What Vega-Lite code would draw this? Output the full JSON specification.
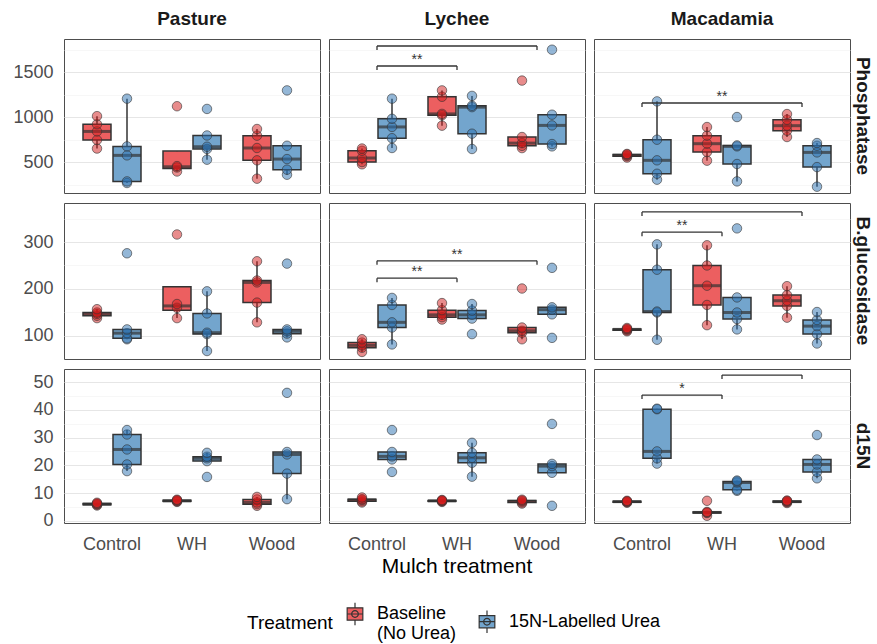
{
"$schema": "https://vega.github.io/schema/vega-lite/v6.json",
"padding": {"left": 12, "top": 10, "right": 4, "bottom": 4},
"datasets": {"d": [
{"site":"Pasture","enzyme":"Phosphatase","mulch":"Control","trt":"Baseline","value":650},
{"site":"Pasture","enzyme":"Phosphatase","mulch":"Control","trt":"Baseline","value":745},
{"site":"Pasture","enzyme":"Phosphatase","mulch":"Control","trt":"Baseline","value":840},
{"site":"Pasture","enzyme":"Phosphatase","mulch":"Control","trt":"Baseline","value":920},
{"site":"Pasture","enzyme":"Phosphatase","mulch":"Control","trt":"Baseline","value":1010},
{"site":"Pasture","enzyme":"Phosphatase","mulch":"Control","trt":"15N","value":267},
{"site":"Pasture","enzyme":"Phosphatase","mulch":"Control","trt":"15N","value":285},
{"site":"Pasture","enzyme":"Phosphatase","mulch":"Control","trt":"15N","value":574},
{"site":"Pasture","enzyme":"Phosphatase","mulch":"Control","trt":"15N","value":674},
{"site":"Pasture","enzyme":"Phosphatase","mulch":"Control","trt":"15N","value":1204},
{"site":"Pasture","enzyme":"Phosphatase","mulch":"WH","trt":"Baseline","value":395},
{"site":"Pasture","enzyme":"Phosphatase","mulch":"WH","trt":"Baseline","value":440},
{"site":"Pasture","enzyme":"Phosphatase","mulch":"WH","trt":"Baseline","value":455},
{"site":"Pasture","enzyme":"Phosphatase","mulch":"WH","trt":"Baseline","value":1120},
{"site":"Pasture","enzyme":"Phosphatase","mulch":"WH","trt":"15N","value":526},
{"site":"Pasture","enzyme":"Phosphatase","mulch":"WH","trt":"15N","value":645},
{"site":"Pasture","enzyme":"Phosphatase","mulch":"WH","trt":"15N","value":670},
{"site":"Pasture","enzyme":"Phosphatase","mulch":"WH","trt":"15N","value":795},
{"site":"Pasture","enzyme":"Phosphatase","mulch":"WH","trt":"15N","value":1090},
{"site":"Pasture","enzyme":"Phosphatase","mulch":"Wood","trt":"Baseline","value":315},
{"site":"Pasture","enzyme":"Phosphatase","mulch":"Wood","trt":"Baseline","value":519},
{"site":"Pasture","enzyme":"Phosphatase","mulch":"Wood","trt":"Baseline","value":656},
{"site":"Pasture","enzyme":"Phosphatase","mulch":"Wood","trt":"Baseline","value":793},
{"site":"Pasture","enzyme":"Phosphatase","mulch":"Wood","trt":"Baseline","value":867},
{"site":"Pasture","enzyme":"Phosphatase","mulch":"Wood","trt":"15N","value":359},
{"site":"Pasture","enzyme":"Phosphatase","mulch":"Wood","trt":"15N","value":415},
{"site":"Pasture","enzyme":"Phosphatase","mulch":"Wood","trt":"15N","value":533},
{"site":"Pasture","enzyme":"Phosphatase","mulch":"Wood","trt":"15N","value":681},
{"site":"Pasture","enzyme":"Phosphatase","mulch":"Wood","trt":"15N","value":1296},
{"site":"Lychee","enzyme":"Phosphatase","mulch":"Control","trt":"Baseline","value":475},
{"site":"Lychee","enzyme":"Phosphatase","mulch":"Control","trt":"Baseline","value":500},
{"site":"Lychee","enzyme":"Phosphatase","mulch":"Control","trt":"Baseline","value":545},
{"site":"Lychee","enzyme":"Phosphatase","mulch":"Control","trt":"Baseline","value":625},
{"site":"Lychee","enzyme":"Phosphatase","mulch":"Control","trt":"Baseline","value":650},
{"site":"Lychee","enzyme":"Phosphatase","mulch":"Control","trt":"15N","value":656},
{"site":"Lychee","enzyme":"Phosphatase","mulch":"Control","trt":"15N","value":765},
{"site":"Lychee","enzyme":"Phosphatase","mulch":"Control","trt":"15N","value":890},
{"site":"Lychee","enzyme":"Phosphatase","mulch":"Control","trt":"15N","value":980},
{"site":"Lychee","enzyme":"Phosphatase","mulch":"Control","trt":"15N","value":1204},
{"site":"Lychee","enzyme":"Phosphatase","mulch":"WH","trt":"Baseline","value":904},
{"site":"Lychee","enzyme":"Phosphatase","mulch":"WH","trt":"Baseline","value":1020},
{"site":"Lychee","enzyme":"Phosphatase","mulch":"WH","trt":"Baseline","value":1035},
{"site":"Lychee","enzyme":"Phosphatase","mulch":"WH","trt":"Baseline","value":1225},
{"site":"Lychee","enzyme":"Phosphatase","mulch":"WH","trt":"Baseline","value":1296},
{"site":"Lychee","enzyme":"Phosphatase","mulch":"WH","trt":"15N","value":645},
{"site":"Lychee","enzyme":"Phosphatase","mulch":"WH","trt":"15N","value":815},
{"site":"Lychee","enzyme":"Phosphatase","mulch":"WH","trt":"15N","value":1110},
{"site":"Lychee","enzyme":"Phosphatase","mulch":"WH","trt":"15N","value":1125},
{"site":"Lychee","enzyme":"Phosphatase","mulch":"WH","trt":"15N","value":1235},
{"site":"Lychee","enzyme":"Phosphatase","mulch":"Wood","trt":"Baseline","value":655},
{"site":"Lychee","enzyme":"Phosphatase","mulch":"Wood","trt":"Baseline","value":680},
{"site":"Lychee","enzyme":"Phosphatase","mulch":"Wood","trt":"Baseline","value":710},
{"site":"Lychee","enzyme":"Phosphatase","mulch":"Wood","trt":"Baseline","value":778},
{"site":"Lychee","enzyme":"Phosphatase","mulch":"Wood","trt":"Baseline","value":1405},
{"site":"Lychee","enzyme":"Phosphatase","mulch":"Wood","trt":"15N","value":674},
{"site":"Lychee","enzyme":"Phosphatase","mulch":"Wood","trt":"15N","value":700},
{"site":"Lychee","enzyme":"Phosphatase","mulch":"Wood","trt":"15N","value":907},
{"site":"Lychee","enzyme":"Phosphatase","mulch":"Wood","trt":"15N","value":1026},
{"site":"Lychee","enzyme":"Phosphatase","mulch":"Wood","trt":"15N","value":1748},
{"site":"Macadamia","enzyme":"Phosphatase","mulch":"Control","trt":"Baseline","value":550},
{"site":"Macadamia","enzyme":"Phosphatase","mulch":"Control","trt":"Baseline","value":565},
{"site":"Macadamia","enzyme":"Phosphatase","mulch":"Control","trt":"Baseline","value":575},
{"site":"Macadamia","enzyme":"Phosphatase","mulch":"Control","trt":"Baseline","value":585},
{"site":"Macadamia","enzyme":"Phosphatase","mulch":"Control","trt":"Baseline","value":590},
{"site":"Macadamia","enzyme":"Phosphatase","mulch":"Control","trt":"15N","value":304},
{"site":"Macadamia","enzyme":"Phosphatase","mulch":"Control","trt":"15N","value":370},
{"site":"Macadamia","enzyme":"Phosphatase","mulch":"Control","trt":"15N","value":519},
{"site":"Macadamia","enzyme":"Phosphatase","mulch":"Control","trt":"15N","value":748},
{"site":"Macadamia","enzyme":"Phosphatase","mulch":"Control","trt":"15N","value":1174},
{"site":"Macadamia","enzyme":"Phosphatase","mulch":"WH","trt":"Baseline","value":515},
{"site":"Macadamia","enzyme":"Phosphatase","mulch":"WH","trt":"Baseline","value":611},
{"site":"Macadamia","enzyme":"Phosphatase","mulch":"WH","trt":"Baseline","value":704},
{"site":"Macadamia","enzyme":"Phosphatase","mulch":"WH","trt":"Baseline","value":793},
{"site":"Macadamia","enzyme":"Phosphatase","mulch":"WH","trt":"Baseline","value":889},
{"site":"Macadamia","enzyme":"Phosphatase","mulch":"WH","trt":"15N","value":285},
{"site":"Macadamia","enzyme":"Phosphatase","mulch":"WH","trt":"15N","value":478},
{"site":"Macadamia","enzyme":"Phosphatase","mulch":"WH","trt":"15N","value":674},
{"site":"Macadamia","enzyme":"Phosphatase","mulch":"WH","trt":"15N","value":685},
{"site":"Macadamia","enzyme":"Phosphatase","mulch":"WH","trt":"15N","value":1000},
{"site":"Macadamia","enzyme":"Phosphatase","mulch":"Wood","trt":"Baseline","value":778},
{"site":"Macadamia","enzyme":"Phosphatase","mulch":"Wood","trt":"Baseline","value":848},
{"site":"Macadamia","enzyme":"Phosphatase","mulch":"Wood","trt":"Baseline","value":904},
{"site":"Macadamia","enzyme":"Phosphatase","mulch":"Wood","trt":"Baseline","value":970},
{"site":"Macadamia","enzyme":"Phosphatase","mulch":"Wood","trt":"Baseline","value":1033},
{"site":"Macadamia","enzyme":"Phosphatase","mulch":"Wood","trt":"15N","value":226},
{"site":"Macadamia","enzyme":"Phosphatase","mulch":"Wood","trt":"15N","value":444},
{"site":"Macadamia","enzyme":"Phosphatase","mulch":"Wood","trt":"15N","value":607},
{"site":"Macadamia","enzyme":"Phosphatase","mulch":"Wood","trt":"15N","value":681},
{"site":"Macadamia","enzyme":"Phosphatase","mulch":"Wood","trt":"15N","value":711},
{"site":"Pasture","enzyme":"B.glucosidase","mulch":"Control","trt":"Baseline","value":138},
{"site":"Pasture","enzyme":"B.glucosidase","mulch":"Control","trt":"Baseline","value":143},
{"site":"Pasture","enzyme":"B.glucosidase","mulch":"Control","trt":"Baseline","value":147},
{"site":"Pasture","enzyme":"B.glucosidase","mulch":"Control","trt":"Baseline","value":150},
{"site":"Pasture","enzyme":"B.glucosidase","mulch":"Control","trt":"Baseline","value":157},
{"site":"Pasture","enzyme":"B.glucosidase","mulch":"Control","trt":"15N","value":93},
{"site":"Pasture","enzyme":"B.glucosidase","mulch":"Control","trt":"15N","value":95},
{"site":"Pasture","enzyme":"B.glucosidase","mulch":"Control","trt":"15N","value":106},
{"site":"Pasture","enzyme":"B.glucosidase","mulch":"Control","trt":"15N","value":114},
{"site":"Pasture","enzyme":"B.glucosidase","mulch":"Control","trt":"15N","value":276},
{"site":"Pasture","enzyme":"B.glucosidase","mulch":"WH","trt":"Baseline","value":138},
{"site":"Pasture","enzyme":"B.glucosidase","mulch":"WH","trt":"Baseline","value":160},
{"site":"Pasture","enzyme":"B.glucosidase","mulch":"WH","trt":"Baseline","value":168},
{"site":"Pasture","enzyme":"B.glucosidase","mulch":"WH","trt":"Baseline","value":316},
{"site":"Pasture","enzyme":"B.glucosidase","mulch":"WH","trt":"15N","value":68},
{"site":"Pasture","enzyme":"B.glucosidase","mulch":"WH","trt":"15N","value":104},
{"site":"Pasture","enzyme":"B.glucosidase","mulch":"WH","trt":"15N","value":107},
{"site":"Pasture","enzyme":"B.glucosidase","mulch":"WH","trt":"15N","value":148},
{"site":"Pasture","enzyme":"B.glucosidase","mulch":"WH","trt":"15N","value":195},
{"site":"Pasture","enzyme":"B.glucosidase","mulch":"Wood","trt":"Baseline","value":129},
{"site":"Pasture","enzyme":"B.glucosidase","mulch":"Wood","trt":"Baseline","value":171},
{"site":"Pasture","enzyme":"B.glucosidase","mulch":"Wood","trt":"Baseline","value":214},
{"site":"Pasture","enzyme":"B.glucosidase","mulch":"Wood","trt":"Baseline","value":218},
{"site":"Pasture","enzyme":"B.glucosidase","mulch":"Wood","trt":"Baseline","value":259},
{"site":"Pasture","enzyme":"B.glucosidase","mulch":"Wood","trt":"15N","value":97},
{"site":"Pasture","enzyme":"B.glucosidase","mulch":"Wood","trt":"15N","value":105},
{"site":"Pasture","enzyme":"B.glucosidase","mulch":"Wood","trt":"15N","value":110},
{"site":"Pasture","enzyme":"B.glucosidase","mulch":"Wood","trt":"15N","value":114},
{"site":"Pasture","enzyme":"B.glucosidase","mulch":"Wood","trt":"15N","value":254},
{"site":"Lychee","enzyme":"B.glucosidase","mulch":"Control","trt":"Baseline","value":66},
{"site":"Lychee","enzyme":"B.glucosidase","mulch":"Control","trt":"Baseline","value":75},
{"site":"Lychee","enzyme":"B.glucosidase","mulch":"Control","trt":"Baseline","value":80},
{"site":"Lychee","enzyme":"B.glucosidase","mulch":"Control","trt":"Baseline","value":86},
{"site":"Lychee","enzyme":"B.glucosidase","mulch":"Control","trt":"Baseline","value":93},
{"site":"Lychee","enzyme":"B.glucosidase","mulch":"Control","trt":"15N","value":82},
{"site":"Lychee","enzyme":"B.glucosidase","mulch":"Control","trt":"15N","value":118},
{"site":"Lychee","enzyme":"B.glucosidase","mulch":"Control","trt":"15N","value":129},
{"site":"Lychee","enzyme":"B.glucosidase","mulch":"Control","trt":"15N","value":166},
{"site":"Lychee","enzyme":"B.glucosidase","mulch":"Control","trt":"15N","value":181},
{"site":"Lychee","enzyme":"B.glucosidase","mulch":"WH","trt":"Baseline","value":135},
{"site":"Lychee","enzyme":"B.glucosidase","mulch":"WH","trt":"Baseline","value":140},
{"site":"Lychee","enzyme":"B.glucosidase","mulch":"WH","trt":"Baseline","value":145},
{"site":"Lychee","enzyme":"B.glucosidase","mulch":"WH","trt":"Baseline","value":155},
{"site":"Lychee","enzyme":"B.glucosidase","mulch":"WH","trt":"Baseline","value":170},
{"site":"Lychee","enzyme":"B.glucosidase","mulch":"WH","trt":"15N","value":104},
{"site":"Lychee","enzyme":"B.glucosidase","mulch":"WH","trt":"15N","value":137},
{"site":"Lychee","enzyme":"B.glucosidase","mulch":"WH","trt":"15N","value":145},
{"site":"Lychee","enzyme":"B.glucosidase","mulch":"WH","trt":"15N","value":154},
{"site":"Lychee","enzyme":"B.glucosidase","mulch":"WH","trt":"15N","value":168},
{"site":"Lychee","enzyme":"B.glucosidase","mulch":"Wood","trt":"Baseline","value":93},
{"site":"Lychee","enzyme":"B.glucosidase","mulch":"Wood","trt":"Baseline","value":107},
{"site":"Lychee","enzyme":"B.glucosidase","mulch":"Wood","trt":"Baseline","value":111},
{"site":"Lychee","enzyme":"B.glucosidase","mulch":"Wood","trt":"Baseline","value":118},
{"site":"Lychee","enzyme":"B.glucosidase","mulch":"Wood","trt":"Baseline","value":201},
{"site":"Lychee","enzyme":"B.glucosidase","mulch":"Wood","trt":"15N","value":96},
{"site":"Lychee","enzyme":"B.glucosidase","mulch":"Wood","trt":"15N","value":146},
{"site":"Lychee","enzyme":"B.glucosidase","mulch":"Wood","trt":"15N","value":156},
{"site":"Lychee","enzyme":"B.glucosidase","mulch":"Wood","trt":"15N","value":161},
{"site":"Lychee","enzyme":"B.glucosidase","mulch":"Wood","trt":"15N","value":245},
{"site":"Macadamia","enzyme":"B.glucosidase","mulch":"Control","trt":"Baseline","value":110},
{"site":"Macadamia","enzyme":"B.glucosidase","mulch":"Control","trt":"Baseline","value":112},
{"site":"Macadamia","enzyme":"B.glucosidase","mulch":"Control","trt":"Baseline","value":114},
{"site":"Macadamia","enzyme":"B.glucosidase","mulch":"Control","trt":"Baseline","value":115},
{"site":"Macadamia","enzyme":"B.glucosidase","mulch":"Control","trt":"Baseline","value":117},
{"site":"Macadamia","enzyme":"B.glucosidase","mulch":"Control","trt":"15N","value":92},
{"site":"Macadamia","enzyme":"B.glucosidase","mulch":"Control","trt":"15N","value":150},
{"site":"Macadamia","enzyme":"B.glucosidase","mulch":"Control","trt":"15N","value":152},
{"site":"Macadamia","enzyme":"B.glucosidase","mulch":"Control","trt":"15N","value":241},
{"site":"Macadamia","enzyme":"B.glucosidase","mulch":"Control","trt":"15N","value":295},
{"site":"Macadamia","enzyme":"B.glucosidase","mulch":"WH","trt":"Baseline","value":123},
{"site":"Macadamia","enzyme":"B.glucosidase","mulch":"WH","trt":"Baseline","value":166},
{"site":"Macadamia","enzyme":"B.glucosidase","mulch":"WH","trt":"Baseline","value":207},
{"site":"Macadamia","enzyme":"B.glucosidase","mulch":"WH","trt":"Baseline","value":250},
{"site":"Macadamia","enzyme":"B.glucosidase","mulch":"WH","trt":"Baseline","value":293},
{"site":"Macadamia","enzyme":"B.glucosidase","mulch":"WH","trt":"15N","value":114},
{"site":"Macadamia","enzyme":"B.glucosidase","mulch":"WH","trt":"15N","value":136},
{"site":"Macadamia","enzyme":"B.glucosidase","mulch":"WH","trt":"15N","value":150},
{"site":"Macadamia","enzyme":"B.glucosidase","mulch":"WH","trt":"15N","value":182},
{"site":"Macadamia","enzyme":"B.glucosidase","mulch":"WH","trt":"15N","value":329},
{"site":"Macadamia","enzyme":"B.glucosidase","mulch":"Wood","trt":"Baseline","value":139},
{"site":"Macadamia","enzyme":"B.glucosidase","mulch":"Wood","trt":"Baseline","value":164},
{"site":"Macadamia","enzyme":"B.glucosidase","mulch":"Wood","trt":"Baseline","value":175},
{"site":"Macadamia","enzyme":"B.glucosidase","mulch":"Wood","trt":"Baseline","value":187},
{"site":"Macadamia","enzyme":"B.glucosidase","mulch":"Wood","trt":"Baseline","value":206},
{"site":"Macadamia","enzyme":"B.glucosidase","mulch":"Wood","trt":"15N","value":84},
{"site":"Macadamia","enzyme":"B.glucosidase","mulch":"Wood","trt":"15N","value":104},
{"site":"Macadamia","enzyme":"B.glucosidase","mulch":"Wood","trt":"15N","value":121},
{"site":"Macadamia","enzyme":"B.glucosidase","mulch":"Wood","trt":"15N","value":134},
{"site":"Macadamia","enzyme":"B.glucosidase","mulch":"Wood","trt":"15N","value":151},
{"site":"Pasture","enzyme":"d15N","mulch":"Control","trt":"Baseline","value":5.5},
{"site":"Pasture","enzyme":"d15N","mulch":"Control","trt":"Baseline","value":5.8},
{"site":"Pasture","enzyme":"d15N","mulch":"Control","trt":"Baseline","value":6.0},
{"site":"Pasture","enzyme":"d15N","mulch":"Control","trt":"Baseline","value":6.2},
{"site":"Pasture","enzyme":"d15N","mulch":"Control","trt":"Baseline","value":6.5},
{"site":"Pasture","enzyme":"d15N","mulch":"Control","trt":"15N","value":17.9},
{"site":"Pasture","enzyme":"d15N","mulch":"Control","trt":"15N","value":20.3},
{"site":"Pasture","enzyme":"d15N","mulch":"Control","trt":"15N","value":25.7},
{"site":"Pasture","enzyme":"d15N","mulch":"Control","trt":"15N","value":31.1},
{"site":"Pasture","enzyme":"d15N","mulch":"Control","trt":"15N","value":32.7},
{"site":"Pasture","enzyme":"d15N","mulch":"WH","trt":"Baseline","value":6.8},
{"site":"Pasture","enzyme":"d15N","mulch":"WH","trt":"Baseline","value":7.0},
{"site":"Pasture","enzyme":"d15N","mulch":"WH","trt":"Baseline","value":7.2},
{"site":"Pasture","enzyme":"d15N","mulch":"WH","trt":"Baseline","value":7.4},
{"site":"Pasture","enzyme":"d15N","mulch":"WH","trt":"Baseline","value":7.6},
{"site":"Pasture","enzyme":"d15N","mulch":"WH","trt":"15N","value":15.8},
{"site":"Pasture","enzyme":"d15N","mulch":"WH","trt":"15N","value":21.5},
{"site":"Pasture","enzyme":"d15N","mulch":"WH","trt":"15N","value":22.5},
{"site":"Pasture","enzyme":"d15N","mulch":"WH","trt":"15N","value":23.1},
{"site":"Pasture","enzyme":"d15N","mulch":"WH","trt":"15N","value":24.5},
{"site":"Pasture","enzyme":"d15N","mulch":"Wood","trt":"Baseline","value":5.4},
{"site":"Pasture","enzyme":"d15N","mulch":"Wood","trt":"Baseline","value":6.0},
{"site":"Pasture","enzyme":"d15N","mulch":"Wood","trt":"Baseline","value":6.6},
{"site":"Pasture","enzyme":"d15N","mulch":"Wood","trt":"Baseline","value":7.7},
{"site":"Pasture","enzyme":"d15N","mulch":"Wood","trt":"Baseline","value":8.6},
{"site":"Pasture","enzyme":"d15N","mulch":"Wood","trt":"15N","value":7.8},
{"site":"Pasture","enzyme":"d15N","mulch":"Wood","trt":"15N","value":17.0},
{"site":"Pasture","enzyme":"d15N","mulch":"Wood","trt":"15N","value":23.9},
{"site":"Pasture","enzyme":"d15N","mulch":"Wood","trt":"15N","value":24.8},
{"site":"Pasture","enzyme":"d15N","mulch":"Wood","trt":"15N","value":46.1},
{"site":"Lychee","enzyme":"d15N","mulch":"Control","trt":"Baseline","value":6.6},
{"site":"Lychee","enzyme":"d15N","mulch":"Control","trt":"Baseline","value":7.0},
{"site":"Lychee","enzyme":"d15N","mulch":"Control","trt":"Baseline","value":7.5},
{"site":"Lychee","enzyme":"d15N","mulch":"Control","trt":"Baseline","value":7.8},
{"site":"Lychee","enzyme":"d15N","mulch":"Control","trt":"Baseline","value":8.4},
{"site":"Lychee","enzyme":"d15N","mulch":"Control","trt":"15N","value":17.6},
{"site":"Lychee","enzyme":"d15N","mulch":"Control","trt":"15N","value":22.1},
{"site":"Lychee","enzyme":"d15N","mulch":"Control","trt":"15N","value":23.2},
{"site":"Lychee","enzyme":"d15N","mulch":"Control","trt":"15N","value":24.8},
{"site":"Lychee","enzyme":"d15N","mulch":"Control","trt":"15N","value":32.7},
{"site":"Lychee","enzyme":"d15N","mulch":"WH","trt":"Baseline","value":6.8},
{"site":"Lychee","enzyme":"d15N","mulch":"WH","trt":"Baseline","value":7.0},
{"site":"Lychee","enzyme":"d15N","mulch":"WH","trt":"Baseline","value":7.2},
{"site":"Lychee","enzyme":"d15N","mulch":"WH","trt":"Baseline","value":7.3},
{"site":"Lychee","enzyme":"d15N","mulch":"WH","trt":"Baseline","value":7.5},
{"site":"Lychee","enzyme":"d15N","mulch":"WH","trt":"15N","value":15.9},
{"site":"Lychee","enzyme":"d15N","mulch":"WH","trt":"15N","value":20.9},
{"site":"Lychee","enzyme":"d15N","mulch":"WH","trt":"15N","value":22.7},
{"site":"Lychee","enzyme":"d15N","mulch":"WH","trt":"15N","value":24.5},
{"site":"Lychee","enzyme":"d15N","mulch":"WH","trt":"15N","value":28.1},
{"site":"Lychee","enzyme":"d15N","mulch":"Wood","trt":"Baseline","value":6.2},
{"site":"Lychee","enzyme":"d15N","mulch":"Wood","trt":"Baseline","value":6.6},
{"site":"Lychee","enzyme":"d15N","mulch":"Wood","trt":"Baseline","value":7.0},
{"site":"Lychee","enzyme":"d15N","mulch":"Wood","trt":"Baseline","value":7.3},
{"site":"Lychee","enzyme":"d15N","mulch":"Wood","trt":"Baseline","value":7.6},
{"site":"Lychee","enzyme":"d15N","mulch":"Wood","trt":"15N","value":5.4},
{"site":"Lychee","enzyme":"d15N","mulch":"Wood","trt":"15N","value":17.3},
{"site":"Lychee","enzyme":"d15N","mulch":"Wood","trt":"15N","value":19.7},
{"site":"Lychee","enzyme":"d15N","mulch":"Wood","trt":"15N","value":20.5},
{"site":"Lychee","enzyme":"d15N","mulch":"Wood","trt":"15N","value":34.9},
{"site":"Macadamia","enzyme":"d15N","mulch":"Control","trt":"Baseline","value":6.5},
{"site":"Macadamia","enzyme":"d15N","mulch":"Control","trt":"Baseline","value":6.7},
{"site":"Macadamia","enzyme":"d15N","mulch":"Control","trt":"Baseline","value":6.9},
{"site":"Macadamia","enzyme":"d15N","mulch":"Control","trt":"Baseline","value":7.0},
{"site":"Macadamia","enzyme":"d15N","mulch":"Control","trt":"Baseline","value":7.2},
{"site":"Macadamia","enzyme":"d15N","mulch":"Control","trt":"15N","value":20.6},
{"site":"Macadamia","enzyme":"d15N","mulch":"Control","trt":"15N","value":22.5},
{"site":"Macadamia","enzyme":"d15N","mulch":"Control","trt":"15N","value":25.0},
{"site":"Macadamia","enzyme":"d15N","mulch":"Control","trt":"15N","value":40.2},
{"site":"Macadamia","enzyme":"d15N","mulch":"Control","trt":"15N","value":40.4},
{"site":"Macadamia","enzyme":"d15N","mulch":"WH","trt":"Baseline","value":1.8},
{"site":"Macadamia","enzyme":"d15N","mulch":"WH","trt":"Baseline","value":2.8},
{"site":"Macadamia","enzyme":"d15N","mulch":"WH","trt":"Baseline","value":3.0},
{"site":"Macadamia","enzyme":"d15N","mulch":"WH","trt":"Baseline","value":3.2},
{"site":"Macadamia","enzyme":"d15N","mulch":"WH","trt":"Baseline","value":7.2},
{"site":"Macadamia","enzyme":"d15N","mulch":"WH","trt":"15N","value":10.8},
{"site":"Macadamia","enzyme":"d15N","mulch":"WH","trt":"15N","value":11.2},
{"site":"Macadamia","enzyme":"d15N","mulch":"WH","trt":"15N","value":13.8},
{"site":"Macadamia","enzyme":"d15N","mulch":"WH","trt":"15N","value":14.2},
{"site":"Macadamia","enzyme":"d15N","mulch":"WH","trt":"15N","value":14.5},
{"site":"Macadamia","enzyme":"d15N","mulch":"Wood","trt":"Baseline","value":6.4},
{"site":"Macadamia","enzyme":"d15N","mulch":"Wood","trt":"Baseline","value":6.7},
{"site":"Macadamia","enzyme":"d15N","mulch":"Wood","trt":"Baseline","value":6.9},
{"site":"Macadamia","enzyme":"d15N","mulch":"Wood","trt":"Baseline","value":7.1},
{"site":"Macadamia","enzyme":"d15N","mulch":"Wood","trt":"Baseline","value":7.3},
{"site":"Macadamia","enzyme":"d15N","mulch":"Wood","trt":"15N","value":15.3},
{"site":"Macadamia","enzyme":"d15N","mulch":"Wood","trt":"15N","value":17.6},
{"site":"Macadamia","enzyme":"d15N","mulch":"Wood","trt":"15N","value":20.3},
{"site":"Macadamia","enzyme":"d15N","mulch":"Wood","trt":"15N","value":22.1},
{"site":"Macadamia","enzyme":"d15N","mulch":"Wood","trt":"15N","value":30.9},
{"site":"Lychee","enzyme":"Phosphatase","from":"Control","to":"WH","y":1567,"label":"**"},
{"site":"Lychee","enzyme":"Phosphatase","from":"Control","to":"Wood","y":1789,"label":""},
{"site":"Macadamia","enzyme":"Phosphatase","from":"Control","to":"Wood","y":1156,"label":"**"},
{"site":"Lychee","enzyme":"B.glucosidase","from":"Control","to":"WH","y":223,"label":"**"},
{"site":"Lychee","enzyme":"B.glucosidase","from":"Control","to":"Wood","y":260,"label":"**"},
{"site":"Macadamia","enzyme":"B.glucosidase","from":"Control","to":"WH","y":321,"label":"**"},
{"site":"Macadamia","enzyme":"B.glucosidase","from":"Control","to":"Wood","y":364,"label":""},
{"site":"Macadamia","enzyme":"d15N","from":"Control","to":"WH","y":45.3,"label":"*"},
{"site":"Macadamia","enzyme":"d15N","from":"WH","to":"Wood","y":52.5,"label":""}
]},
"config": {
  "font": "Liberation Sans",
  "view": {"stroke": "#4D4D4D", "strokeWidth": 1},
  "axis": {"domain": false, "ticks": false, "tickSize": 0, "labelFontSize": 18, "labelColor": "#4D4D4D", "grid": false, "labelOverlap": false, "labelFlush": false},
  "header": {"labelFontSize": 19, "labelFontWeight": "bold", "labelColor": "#1A1A1A"},
  "legend": {"orient": "none", "legendX": 183, "legendY": 563, "direction": "horizontal", "titleOrient": "left", "titleFontSize": 19, "titleFontWeight": "normal", "titleColor": "#000000", "labelFontSize": 18, "labelColor": "#000000", "symbolSize": 500, "symbolOpacity": 1, "symbolStrokeColor": "#333333", "symbolStrokeWidth": 1.2, "symbolType": "M-0.7,-0.55H0.7V0.55H-0.7Z M0,-0.55V-1 M0,0.55V1 M-0.7,0H0.7 M0.3,0A0.3,0.3,0,1,1,-0.3,0A0.3,0.3,0,1,1,0.3,0", "columnPadding": 18, "labelOffset": 10, "titlePadding": 10}
},
"spacing": 8,
"resolve": {"scale": {"y": "independent"}},
"vconcat": [
{
 "data": {"name": "d"},
 "transform": [{"filter": "datum.enzyme == 'Phosphatase'"}],
 "facet": {
  "row": {"field": "enzyme", "type": "nominal", "header": {"title": null, "labelOrient": "right", "labelAngle": 90, "labelPadding": 2}},
  "column": {"field": "site", "type": "nominal", "sort": ["Pasture", "Lychee", "Macadamia"], "header": {"title": null, "labelOrient": "top", "labelPadding": 9}}
 },
 "spacing": {"column": 7, "row": 0},
 "spec": {
  "width": 256, "height": 154,
  "layer": [
   {"transform": [{"filter": "isValid(datum.value)"}],
    "mark": {"type": "boxplot", "extent": 1.5, "size": 28, "outliers": false, "ticks": false, "box": {"stroke": "#333333", "strokeWidth": 1.5}, "median": {"color": "#333333", "thickness": 3}, "rule": {"color": "#333333", "strokeWidth": 1.5}},
    "encoding": {
     "x": {"field": "mulch", "type": "nominal", "scale": {"domain": ["Control", "WH", "Wood"], "paddingInner": 0, "paddingOuter": 0.1}, "axis": null},
     "xOffset": {"field": "trt", "type": "nominal", "scale": {"domain": ["Baseline", "15N"], "paddingInner": 0, "paddingOuter": 0.333}},
     "y": {"field": "value", "type": "quantitative", "scale": {"domain": [156, 1867], "nice": false, "zero": false}, "axis": {"title": null, "values": [250, 500, 750, 1000, 1250, 1500, 1750], "tickCount": 30, "format": "d", "labelExpr": "datum.value % 500 == 0 ? datum.label : ''", "grid": true, "gridColor": {"condition": {"test": "datum.value % 500 == 250", "value": "#F3F3F3"}, "value": "#E6E6E6"}, "gridWidth": {"condition": {"test": "datum.value % 500 == 250", "value": 0.7}, "value": 1.1}, "labelPadding": 10, "labelFlush": false, "labelOverlap": false, "minExtent": 50, "maxExtent": 50}},
     "color": {"field": "trt", "type": "nominal", "scale": {"domain": ["Baseline", "15N"], "range": ["#EC5F60", "#73A5CD"]}, "legend": {"title": "Treatment", "labelExpr": "datum.value == 'Baseline' ? ['Baseline', '(No Urea)'] : '15N-Labelled Urea'", "encode": {"symbols": {"update": {"opacity": {"value": 1}, "fillOpacity": {"value": 1}, "fill": {"scale": "color", "field": "value"}, "stroke": {"value": "#333333"}, "strokeWidth": {"value": 1.2}, "strokeOpacity": {"value": 1}}}}}}
    }},
   {"transform": [{"filter": "isValid(datum.value)"}],
    "mark": {"type": "point", "filled": true, "size": 90, "opacity": 1, "fillOpacity": 0.5, "stroke": "#333333", "strokeOpacity": 0.6, "strokeWidth": 1},
    "encoding": {
     "x": {"field": "mulch", "type": "nominal", "axis": null},
     "xOffset": {"field": "trt", "type": "nominal"},
     "y": {"field": "value", "type": "quantitative", "scale": {"domain": [156, 1867], "nice": false, "zero": false}},
     "fill": {"field": "trt", "type": "nominal", "scale": {"domain": ["Baseline", "15N"], "range": ["#D11A1A", "#2A6FB0"]}, "legend": null}
    }},
   {"transform": [{"filter": "isValid(datum.from)"}],
    "mark": {"type": "rule", "color": "#333333", "strokeWidth": 1.3},
    "encoding": {
     "x": {"field": "from", "type": "nominal", "axis": null},
     "x2": {"field": "to"},
     "y": {"field": "y", "type": "quantitative", "scale": {"domain": [156, 1867], "nice": false, "zero": false}}
    }},
   {"transform": [{"filter": "isValid(datum.from)"}, {"fold": ["from", "to"], "as": ["end", "cat"]}],
    "mark": {"type": "point", "shape": "M0,0V1", "size": 64, "filled": false, "opacity": 1, "stroke": "#333333", "strokeWidth": 1.3},
    "encoding": {
     "x": {"field": "cat", "type": "nominal", "axis": null},
     "y": {"field": "y", "type": "quantitative", "scale": {"domain": [156, 1867], "nice": false, "zero": false}}
    }},
   {"transform": [{"filter": "isValid(datum.from) && datum.label != '' && datum.to == 'WH'"}],
    "mark": {"type": "text", "fontSize": 14, "color": "#333333", "baseline": "alphabetic", "dy": -2},
    "encoding": {
     "x": {"field": "from", "type": "nominal", "bandPosition": 1, "axis": null},
     "y": {"field": "y", "type": "quantitative", "scale": {"domain": [156, 1867], "nice": false, "zero": false}},
     "text": {"field": "label"}
    }},
   {"transform": [{"filter": "isValid(datum.from) && datum.label != '' && datum.to == 'Wood'"}],
    "mark": {"type": "text", "fontSize": 14, "color": "#333333", "baseline": "alphabetic", "dy": -2},
    "encoding": {
     "x": {"datum": "WH", "type": "nominal", "bandPosition": 0.5, "axis": null},
     "y": {"field": "y", "type": "quantitative", "scale": {"domain": [156, 1867], "nice": false, "zero": false}},
     "text": {"field": "label"}
    }}
  ]
 }
},
{
 "data": {"name": "d"},
 "transform": [{"filter": "datum.enzyme == 'B.glucosidase'"}],
 "facet": {
  "row": {"field": "enzyme", "type": "nominal", "header": {"title": null, "labelOrient": "right", "labelAngle": 90, "labelPadding": 2}},
  "column": {"field": "site", "type": "nominal", "sort": ["Pasture", "Lychee", "Macadamia"], "header": {"title": null, "labels": false}}
 },
 "spacing": {"column": 7, "row": 0},
 "spec": {
  "width": 256, "height": 156,
  "layer": [
   {"transform": [{"filter": "isValid(datum.value)"}],
    "mark": {"type": "boxplot", "extent": 1.5, "size": 28, "outliers": false, "ticks": false, "box": {"stroke": "#333333", "strokeWidth": 1.5}, "median": {"color": "#333333", "thickness": 3}, "rule": {"color": "#333333", "strokeWidth": 1.5}},
    "encoding": {
     "x": {"field": "mulch", "type": "nominal", "scale": {"domain": ["Control", "WH", "Wood"], "paddingInner": 0, "paddingOuter": 0.1}, "axis": null},
     "xOffset": {"field": "trt", "type": "nominal", "scale": {"domain": ["Baseline", "15N"], "paddingInner": 0, "paddingOuter": 0.333}},
     "y": {"field": "value", "type": "quantitative", "scale": {"domain": [51, 383], "nice": false, "zero": false}, "axis": {"title": null, "values": [100, 150, 200, 250, 300, 350], "tickCount": 30, "format": "d", "labelExpr": "datum.value % 100 == 0 ? datum.label : ''", "grid": true, "gridColor": {"condition": {"test": "datum.value % 100 == 50", "value": "#F3F3F3"}, "value": "#E6E6E6"}, "gridWidth": {"condition": {"test": "datum.value % 100 == 50", "value": 0.7}, "value": 1.1}, "labelPadding": 10, "labelFlush": false, "labelOverlap": false, "minExtent": 50, "maxExtent": 50}},
     "color": {"field": "trt", "type": "nominal", "scale": {"domain": ["Baseline", "15N"], "range": ["#EC5F60", "#73A5CD"]}, "legend": {"title": "Treatment", "labelExpr": "datum.value == 'Baseline' ? ['Baseline', '(No Urea)'] : '15N-Labelled Urea'", "encode": {"symbols": {"update": {"opacity": {"value": 1}, "fillOpacity": {"value": 1}, "fill": {"scale": "color", "field": "value"}, "stroke": {"value": "#333333"}, "strokeWidth": {"value": 1.2}, "strokeOpacity": {"value": 1}}}}}}
    }},
   {"transform": [{"filter": "isValid(datum.value)"}],
    "mark": {"type": "point", "filled": true, "size": 90, "opacity": 1, "fillOpacity": 0.5, "stroke": "#333333", "strokeOpacity": 0.6, "strokeWidth": 1},
    "encoding": {
     "x": {"field": "mulch", "type": "nominal", "axis": null},
     "xOffset": {"field": "trt", "type": "nominal"},
     "y": {"field": "value", "type": "quantitative", "scale": {"domain": [51, 383], "nice": false, "zero": false}},
     "fill": {"field": "trt", "type": "nominal", "scale": {"domain": ["Baseline", "15N"], "range": ["#D11A1A", "#2A6FB0"]}, "legend": null}
    }},
   {"transform": [{"filter": "isValid(datum.from)"}],
    "mark": {"type": "rule", "color": "#333333", "strokeWidth": 1.3},
    "encoding": {
     "x": {"field": "from", "type": "nominal", "axis": null},
     "x2": {"field": "to"},
     "y": {"field": "y", "type": "quantitative", "scale": {"domain": [51, 383], "nice": false, "zero": false}}
    }},
   {"transform": [{"filter": "isValid(datum.from)"}, {"fold": ["from", "to"], "as": ["end", "cat"]}],
    "mark": {"type": "point", "shape": "M0,0V1", "size": 64, "filled": false, "opacity": 1, "stroke": "#333333", "strokeWidth": 1.3},
    "encoding": {
     "x": {"field": "cat", "type": "nominal", "axis": null},
     "y": {"field": "y", "type": "quantitative", "scale": {"domain": [51, 383], "nice": false, "zero": false}}
    }},
   {"transform": [{"filter": "isValid(datum.from) && datum.label != '' && datum.to == 'WH'"}],
    "mark": {"type": "text", "fontSize": 14, "color": "#333333", "baseline": "alphabetic", "dy": -2},
    "encoding": {
     "x": {"field": "from", "type": "nominal", "bandPosition": 1, "axis": null},
     "y": {"field": "y", "type": "quantitative", "scale": {"domain": [51, 383], "nice": false, "zero": false}},
     "text": {"field": "label"}
    }},
   {"transform": [{"filter": "isValid(datum.from) && datum.label != '' && datum.to == 'Wood'"}],
    "mark": {"type": "text", "fontSize": 14, "color": "#333333", "baseline": "alphabetic", "dy": -2},
    "encoding": {
     "x": {"datum": "WH", "type": "nominal", "bandPosition": 0.5, "axis": null},
     "y": {"field": "y", "type": "quantitative", "scale": {"domain": [51, 383], "nice": false, "zero": false}},
     "text": {"field": "label"}
    }}
  ]
 }
},
{
 "data": {"name": "d"},
 "transform": [{"filter": "datum.enzyme == 'd15N'"}],
 "facet": {
  "row": {"field": "enzyme", "type": "nominal", "header": {"title": null, "labelOrient": "right", "labelAngle": 90, "labelPadding": 2}},
  "column": {"field": "site", "type": "nominal", "sort": ["Pasture", "Lychee", "Macadamia"], "header": {"title": "Mulch treatment", "titleOrient": "bottom", "titleFontSize": 21, "titleFontWeight": "normal", "titleColor": "#000000", "titlePadding": -7, "labels": false}}
 },
 "spacing": {"column": 7, "row": 0},
 "spec": {
  "width": 256, "height": 154,
  "layer": [
   {"transform": [{"filter": "isValid(datum.value)"}],
    "mark": {"type": "boxplot", "extent": 1.5, "size": 28, "outliers": false, "ticks": false, "box": {"stroke": "#333333", "strokeWidth": 1.5}, "median": {"color": "#333333", "thickness": 3}, "rule": {"color": "#333333", "strokeWidth": 1.5}},
    "encoding": {
     "x": {"field": "mulch", "type": "nominal", "scale": {"domain": ["Control", "WH", "Wood"], "paddingInner": 0, "paddingOuter": 0.1}, "axis": {"title": null, "labelAngle": 0, "labelPadding": 11}},
     "xOffset": {"field": "trt", "type": "nominal", "scale": {"domain": ["Baseline", "15N"], "paddingInner": 0, "paddingOuter": 0.333}},
     "y": {"field": "value", "type": "quantitative", "scale": {"domain": [-0.8, 54.7], "nice": false, "zero": false}, "axis": {"title": null, "values": [0, 5, 10, 15, 20, 25, 30, 35, 40, 45, 50], "tickCount": 30, "format": "d", "labelExpr": "datum.value % 10 == 0 ? datum.label : ''", "grid": true, "gridColor": {"condition": {"test": "datum.value % 10 == 5", "value": "#F3F3F3"}, "value": "#E6E6E6"}, "gridWidth": {"condition": {"test": "datum.value % 10 == 5", "value": 0.7}, "value": 1.1}, "labelPadding": 10, "labelFlush": false, "labelOverlap": false, "minExtent": 50, "maxExtent": 50}},
     "color": {"field": "trt", "type": "nominal", "scale": {"domain": ["Baseline", "15N"], "range": ["#EC5F60", "#73A5CD"]}, "legend": {"title": "Treatment", "labelExpr": "datum.value == 'Baseline' ? ['Baseline', '(No Urea)'] : '15N-Labelled Urea'", "encode": {"symbols": {"update": {"opacity": {"value": 1}, "fillOpacity": {"value": 1}, "fill": {"scale": "color", "field": "value"}, "stroke": {"value": "#333333"}, "strokeWidth": {"value": 1.2}, "strokeOpacity": {"value": 1}}}}}}
    }},
   {"transform": [{"filter": "isValid(datum.value)"}],
    "mark": {"type": "point", "filled": true, "size": 90, "opacity": 1, "fillOpacity": 0.5, "stroke": "#333333", "strokeOpacity": 0.6, "strokeWidth": 1},
    "encoding": {
     "x": {"field": "mulch", "type": "nominal"},
     "xOffset": {"field": "trt", "type": "nominal"},
     "y": {"field": "value", "type": "quantitative", "scale": {"domain": [-0.8, 54.7], "nice": false, "zero": false}},
     "fill": {"field": "trt", "type": "nominal", "scale": {"domain": ["Baseline", "15N"], "range": ["#D11A1A", "#2A6FB0"]}, "legend": null}
    }},
   {"transform": [{"filter": "isValid(datum.from)"}],
    "mark": {"type": "rule", "color": "#333333", "strokeWidth": 1.3},
    "encoding": {
     "x": {"field": "from", "type": "nominal"},
     "x2": {"field": "to"},
     "y": {"field": "y", "type": "quantitative", "scale": {"domain": [-0.8, 54.7], "nice": false, "zero": false}}
    }},
   {"transform": [{"filter": "isValid(datum.from)"}, {"fold": ["from", "to"], "as": ["end", "cat"]}],
    "mark": {"type": "point", "shape": "M0,0V1", "size": 64, "filled": false, "opacity": 1, "stroke": "#333333", "strokeWidth": 1.3},
    "encoding": {
     "x": {"field": "cat", "type": "nominal"},
     "y": {"field": "y", "type": "quantitative", "scale": {"domain": [-0.8, 54.7], "nice": false, "zero": false}}
    }},
   {"transform": [{"filter": "isValid(datum.from) && datum.label != '' && datum.to == 'WH'"}],
    "mark": {"type": "text", "fontSize": 14, "color": "#333333", "baseline": "alphabetic", "dy": -2},
    "encoding": {
     "x": {"field": "from", "type": "nominal", "bandPosition": 1},
     "y": {"field": "y", "type": "quantitative", "scale": {"domain": [-0.8, 54.7], "nice": false, "zero": false}},
     "text": {"field": "label"}
    }}
  ]
 }
}
]
}
